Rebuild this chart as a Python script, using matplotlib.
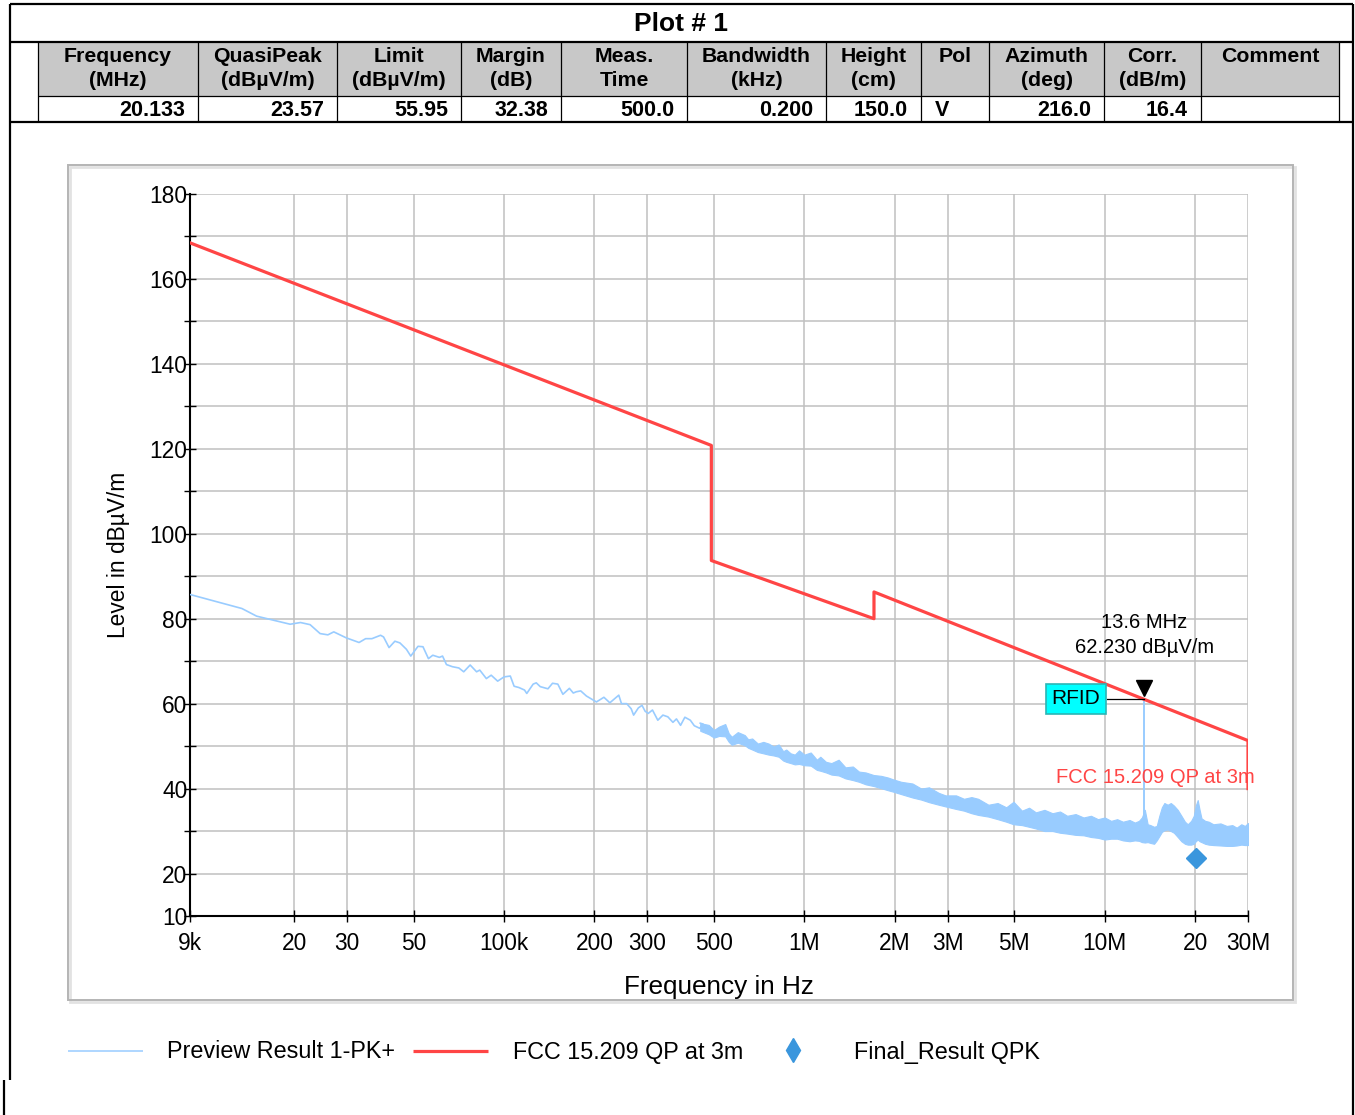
#!/usr/bin/env python3
"""EMI radiated emission plot (9 kHz - 30 MHz) with result table, FCC 15.209 limit."""

import matplotlib

matplotlib.use("Agg")
import matplotlib.pyplot as plt  # noqa: E402
from matplotlib.lines import Line2D  # noqa: E402
from matplotlib.patches import Rectangle  # noqa: E402

plt.rcParams["font.family"] = ["Liberation Sans", "DejaVu Sans"]

W, H = 1355, 1115

# --------------------------------------------------------------------------- #
# Data
# --------------------------------------------------------------------------- #
table_headers = [("Frequency", "(MHz)"), ("QuasiPeak", "(dBµV/m)"), ("Limit", "(dBµV/m)"),
                 ("Margin", "(dB)"), ("Meas.", "Time"), ("Bandwidth", "(kHz)"),
                 ("Height", "(cm)"), ("Pol", ""), ("Azimuth", "(deg)"), ("Corr.", "(dB/m)"),
                 ("Comment", "")]
table_values = ["20.133", "23.57", "55.95", "32.38", "500.0", "0.200", "150.0", "V",
                "216.0", "16.4", ""]

# FCC 15.209 QP limit at 3 m
limit_freq = [9e3, 490e3, 490e3, 1.705e6, 1.705e6, 30e6, 30e6]
limit_level = [168.5, 120.8, 93.7, 80.0, 86.3, 51.3, 40.0]

# Preview result, low-frequency part (a thin line)
pk_freq_khz = [9, 13.4, 15.0, 19.4, 21.0, 22.6, 24.4, 25.9, 27.1, 29.8, 32.9, 34.6, 36.3,
               38.8, 39.7, 41.4, 43.3, 45.0, 47.3, 48.9, 51.7, 53.7, 56.0, 57.9, 60.9,
               62.4, 64.3, 67.3, 70.7, 73.4, 77.1, 81.0, 83.0, 87.3, 90.6, 95.2, 100,
               104.9, 108, 112, 117, 119, 125, 128, 132, 140, 145, 151, 157, 165, 170,
               174, 180, 188, 203, 215, 225, 241, 246, 256, 265, 270, 280, 288, 295, 302,
               312, 325, 338, 351, 365, 375, 387, 400, 417, 430, 448, 460]
pk_level = [85.7, 82.4, 80.6, 78.7, 79.1, 78.6, 76.5, 76.2, 76.9, 75.5, 74.4, 75.3, 75.3,
            76.1, 75.7, 73.2, 74.7, 74.3, 72.8, 71.2, 73.5, 73.4, 70.6, 71.4, 70.9,
            71.2, 69.2, 68.7, 68.4, 67.5, 69.1, 67.5, 67.9, 65.9, 66.7, 65.3, 66.3,
            66.5, 64.1, 63.8, 63.2, 62.4, 64.6, 64.9, 64.0, 63.5, 64.8, 64.6, 62.2, 63.6,
            62.5, 62.8, 63.0, 61.8, 60.4, 61.5, 60.2, 62.0, 60.0, 60.0, 58.8, 57.3, 59.0,
            59.6, 58.2, 57.7, 58.5, 56.1, 57.3, 56.9, 55.6, 56.4, 54.9, 56.8, 56.1, 54.8,
            54.2, 55.2]

# Preview result, dense part above ~450 kHz: lower / upper envelope of the trace
band_freq_mhz = [0.45, 0.48, 0.50, 0.52, 0.545, 0.56, 0.573, 0.60, 0.633, 0.65, 0.67,
                 0.70, 0.73, 0.76, 0.79, 0.821, 0.85, 0.87, 0.90, 0.929, 0.96, 1.0, 1.05,
                 1.1, 1.13, 1.18, 1.23, 1.3, 1.37, 1.45, 1.52, 1.6, 1.7, 1.8, 1.9, 1.97,
                 2.1, 2.29, 2.45, 2.6, 2.8, 2.95, 3.2, 3.4, 3.6, 3.79, 4.1, 4.4, 4.7, 4.97,
                 5.3, 5.6, 5.9, 6.3, 6.7, 7.1, 7.5, 8.0, 8.5, 9.0, 9.5, 10.0, 10.5, 11.0,
                 11.5, 12.1, 12.6, 13.0, 13.3, 13.6, 13.9, 14.2, 14.6, 14.9, 15.2, 15.5,
                 15.8, 16.2, 16.6, 17.0, 17.5, 18.0, 18.5, 18.9, 19.4, 19.8, 20.1, 20.4,
                 20.7, 21.0, 21.6, 22.2, 23.0, 24.3, 25.5, 26.6, 27.5, 28.5, 29.3, 30.0]
band_low = [53.6, 52.8, 52.0, 52.4, 52.3, 51.0, 50.3, 50.8, 50.2, 49.6, 49.2,
            48.6, 48.3, 48.0, 47.8, 47.5, 46.6, 46.3, 46.0, 45.7, 45.8, 45.5, 45.4,
            44.4, 44.2, 43.8, 43.3, 43.1, 42.4, 42.0, 41.6, 41.0, 40.6, 40.1, 39.6, 39.3,
            38.7, 37.9, 37.4, 36.8, 36.2, 35.8, 35.2, 34.8, 34.2, 33.8, 33.4, 32.8, 32.2, 31.6,
            31.4, 31.0, 30.6, 30.0, 30.0, 29.6, 29.4, 29.1, 29.0, 28.6, 28.4, 28.0, 28.2, 28.2,
            27.8, 27.6, 27.8, 27.7, 27.4, 27.3, 27.4, 27.2, 27.0, 27.8, 28.8, 29.8,
            30.2, 30.4, 30.0, 29.6, 28.6, 27.6, 27.0, 26.8, 26.8, 27.0, 27.6, 28.0,
            27.6, 27.4, 27.0, 26.8, 26.7, 26.6, 26.5, 26.5, 26.6, 26.8, 26.7, 26.7]
band_high = [55.4, 55.0, 53.8, 54.6, 55.2, 53.0, 52.2, 53.3, 52.6, 51.6, 51.8,
             50.6, 51.0, 50.6, 49.9, 50.4, 48.8, 49.2, 48.3, 48.0, 49.0, 48.0, 48.5,
             46.8, 47.5, 46.3, 46.0, 46.8, 45.0, 45.2, 44.0, 43.8, 43.2, 43.0, 42.6, 42.2,
             41.6, 41.2, 40.0, 40.3, 39.0, 38.4, 38.4, 37.6, 38.0, 37.6, 36.2, 36.6, 35.6, 36.9,
             34.8, 35.5, 34.4, 35.0, 34.2, 34.6, 33.6, 34.0, 33.2, 33.6, 32.8, 33.2, 32.4, 32.8,
             32.2, 32.6, 32.0, 32.4, 33.2, 35.0, 31.6, 31.4, 31.0, 31.2, 33.6, 35.6,
             36.6, 36.2, 36.6, 36.0, 35.0, 33.6, 32.2, 31.6, 32.4, 33.6, 36.0, 37.3,
             35.0, 33.0, 32.4, 32.2, 31.6, 31.8, 31.2, 31.4, 30.8, 31.6, 31.2, 31.9]

# RFID carrier spike
rfid_freq = 13.56e6
rfid_level = [30.0, 61.0]

# Final result
final_freq = [20.133e6]
final_level = [23.57]

x_ticks = [9e3, 2e4, 3e4, 5e4, 1e5, 2e5, 3e5, 5e5, 1e6, 2e6, 3e6, 5e6, 1e7, 2e7, 3e7]
x_tick_labels = ["9k", "20", "30", "50", "100k", "200", "300", "500", "1M", "2M", "3M",
                 "5M", "10M", "20", "30M"]
y_ticks = [10, 20, 40, 60, 80, 100, 120, 140, 160, 180]
y_minor = [30, 50, 70, 90, 110, 130, 150, 170]

PK_COLOR = "#99CCFF"
LIMIT_COLOR = "#FF4545"
FINAL_COLOR = "#3A96DD"


def fx(x):
    return x / W


def fy(y):
    return 1 - y / H


def fline(fig, xs, ys, lw=1.0, color="black"):
    fig.add_artist(Line2D([fx(x) for x in xs], [fy(y) for y in ys], lw=lw, color=color,
                          transform=fig.transFigure, solid_capstyle="butt"))


def frect(fig, x0, y0, x1, y1, **kw):
    fig.add_artist(Rectangle((fx(x0), fy(y1)), fx(x1) - fx(x0), fy(y0) - fy(y1),
                             transform=fig.transFigure, **kw))


# --------------------------------------------------------------------------- #
# Figure
# --------------------------------------------------------------------------- #
fig = plt.figure(figsize=(W / 100, H / 100), dpi=100)

# header table
col_edges = [38, 198, 337, 461, 561, 687, 826, 921, 989, 1104, 1201, 1339]
frect(fig, col_edges[0], 42, col_edges[-1], 96, facecolor="#C8C8C8", edgecolor="none")
fig.text(fx(681), fy(24), "Plot # 1", ha="center", va="center", fontsize=19,
         fontweight="bold")
for x in col_edges:
    fline(fig, [x, x], [42, 122], lw=0.9)
fline(fig, [col_edges[0], col_edges[-1]], [96, 96], lw=0.9)
for i, ((hdr1, hdr2), val) in enumerate(zip(table_headers, table_values)):
    x0, x1 = col_edges[i], col_edges[i + 1]
    xc = fx((x0 + x1) / 2)
    fig.text(xc, fy(57), hdr1, ha="center", va="center", fontsize=15.3, fontweight="bold")
    if hdr2:
        fig.text(xc, fy(81), hdr2, ha="center", va="center", fontsize=15.3,
                 fontweight="bold")
    if val == "V":
        fig.text(fx(x0 + 14), fy(110), val, ha="left", va="center", fontsize=15.5,
                 fontweight="bold")
    elif val:
        fig.text(fx(x1 - 13), fy(110), val, ha="right", va="center", fontsize=15.5,
                 fontweight="bold")
fline(fig, [10, 1353], [4, 4], lw=1.6)
fline(fig, [10, 1353], [42, 42], lw=1.6)
fline(fig, [10, 1353], [122, 122], lw=1.6)
fline(fig, [10, 10], [4, 1080], lw=1.6)
fline(fig, [4, 4], [1080, 1115], lw=1.6)
fline(fig, [1353, 1353], [4, 1115], lw=1.6)

# plot panel frame
frect(fig, 70, 167, 1295, 1002, facecolor="none", edgecolor="#E2E2E2", lw=2.0)
frect(fig, 68, 165, 1293, 1000, facecolor="none", edgecolor="#B4B4B4", lw=1.4)

ax = fig.add_axes([fx(190), fy(916), fx(1248) - fx(190), fy(194) - fy(916)])
ax.set_xscale("log")
ax.set_xlim(9e3, 30e6)
ax.set_ylim(10, 180)

ax.fill_between([f * 1e6 for f in band_freq_mhz], band_low, band_high, color=PK_COLOR,
                lw=0.8, edgecolor=PK_COLOR, zorder=3)
ax.plot([f * 1e3 for f in pk_freq_khz] + [band_freq_mhz[0] * 1e6],
        pk_level + [band_high[0]], color=PK_COLOR, lw=1.2, zorder=3)
ax.plot([rfid_freq, rfid_freq], rfid_level, color=PK_COLOR, lw=1.4, zorder=3)
ax.plot(limit_freq, limit_level, color=LIMIT_COLOR, lw=2.3, zorder=4)
ax.plot(final_freq, final_level, ls="none", marker="D", ms=10, color=FINAL_COLOR,
        zorder=5)

# marker annotation
ax.plot([rfid_freq], [63.6], marker="v", ms=11, color="black", ls="none", zorder=6)
ax.text(rfid_freq, 79.2, "13.6 MHz", ha="center", va="center", fontsize=14.5)
ax.text(rfid_freq, 73.3, "62.230 dBµV/m", ha="center", va="center", fontsize=14.5)
ax.plot([10.2e6, rfid_freq], [61.0, 61.0], color="black", lw=0.9, zorder=5)
ax.text(8.03e6, 61.1, "RFID", ha="center", va="center", fontsize=15, zorder=7,
        bbox=dict(boxstyle="square,pad=0.26", facecolor="#00FFFF", edgecolor="#2BB5B5",
                  lw=1.2))
ax.text(31.7e6, 42.6, "FCC 15.209 QP at 3m", ha="right", va="center", fontsize=14.5,
        color=LIMIT_COLOR, zorder=6)

ax.set_xticks(x_ticks)
ax.set_xticklabels(x_tick_labels)
ax.xaxis.set_minor_locator(matplotlib.ticker.NullLocator())
ax.set_yticks(y_ticks)
ax.set_yticks(y_minor, minor=True)
ax.grid(True, which="both", color="#C0C0C0", lw=1.1, zorder=0)
ax.set_axisbelow(True)
ax.tick_params(axis="both", which="both", direction="inout", length=8.6, width=1.0,
               labelsize=16.4)
ax.tick_params(axis="y", pad=-2.5)
ax.tick_params(axis="x", pad=7.5)
for side in ("top", "right"):
    ax.spines[side].set_visible(False)
for side in ("left", "bottom"):
    ax.spines[side].set_linewidth(1.5)
ax.set_xlabel("Frequency in Hz", fontsize=18.8, labelpad=14)
ax.set_ylabel("Level in dBµV/m", fontsize=16.4, labelpad=14)

# legend below the panel
fline(fig, [68, 143], [1051, 1051], lw=1.1, color=PK_COLOR)
fig.text(fx(167), fy(1052), "Preview Result 1-PK+", ha="left", va="center", fontsize=16.8)
fline(fig, [413, 488], [1051, 1051], lw=2.3, color=LIMIT_COLOR)
fig.text(fx(513), fy(1052), "FCC 15.209 QP at 3m", ha="left", va="center", fontsize=16.8)
fig.add_artist(Line2D([fx(793)], [fy(1050)], marker="d", ms=12, color=FINAL_COLOR,
                      ls="none", transform=fig.transFigure))
fig.text(fx(854), fy(1052), "Final_Result QPK", ha="left", va="center", fontsize=16.8)

fig.savefig("out.png", dpi=100)
